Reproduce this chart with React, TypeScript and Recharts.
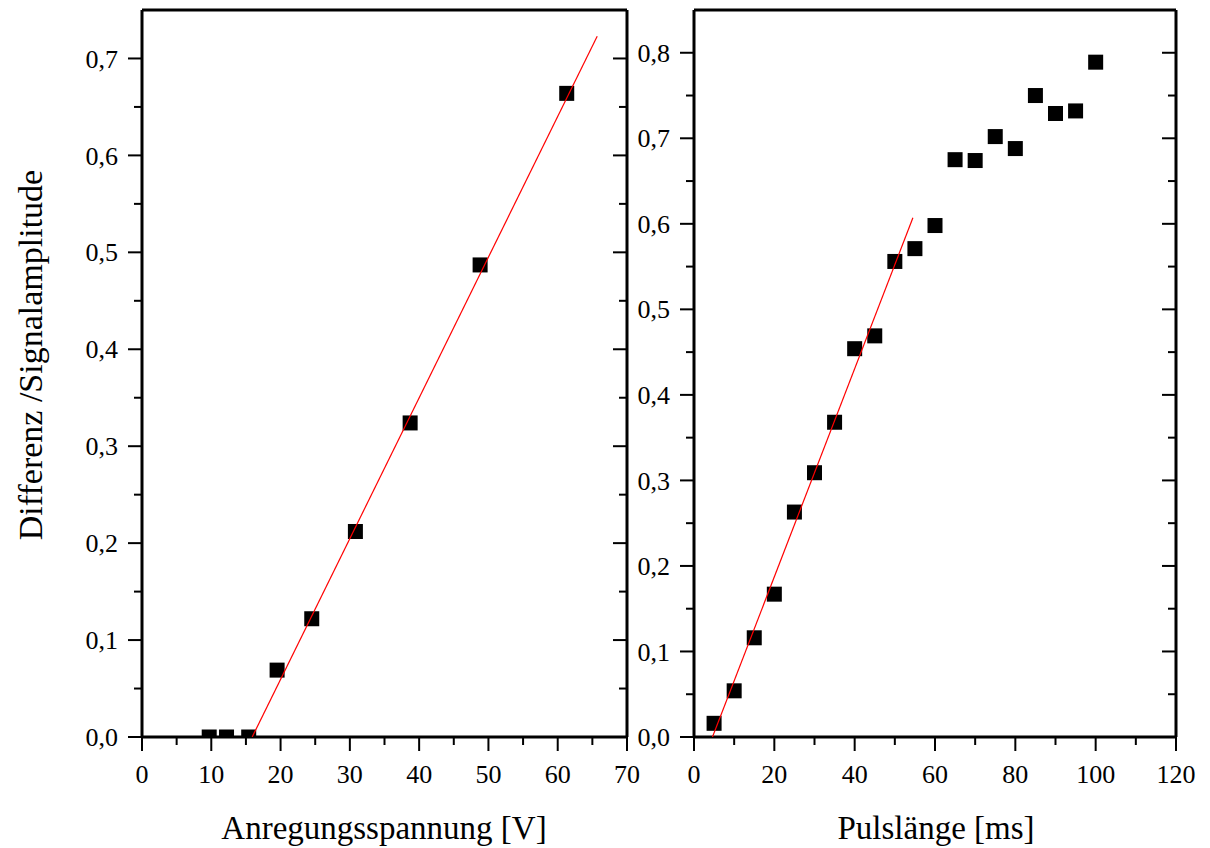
import React from 'react';
import { ScatterChart, Scatter, XAxis, YAxis } from 'recharts';

// left panel: amplitude vs excitation voltage
const voltage = [9.7, 12.2, 15.4, 19.5, 24.5, 30.8, 38.7, 48.8, 61.3];
const voltageAmp = [0, 0, 0, 0.069, 0.122, 0.212, 0.324, 0.487, 0.664];
const voltageFitX = [15.9, 65.7];
const voltageFitY = [0, 0.723];

// right panel: amplitude vs pulse length
const pulse = [5, 10, 15, 20, 25, 30, 35, 40, 45, 50, 55, 60, 65, 70, 75, 80, 85, 90, 95, 100];
const pulseAmp = [
  0.016, 0.054, 0.116, 0.167, 0.263, 0.309, 0.368, 0.454, 0.469, 0.556,
  0.571, 0.598, 0.675, 0.674, 0.702, 0.688, 0.75, 0.729, 0.732, 0.789,
];
const pulseFitX = [4.6, 54.5];
const pulseFitY = [0, 0.607];

const voltageTicks = [0, 5, 10, 15, 20, 25, 30, 35, 40, 45, 50, 55, 60, 65, 70];
const pulseTicks = [0, 10, 20, 30, 40, 50, 60, 70, 80, 90, 100, 110, 120];
const leftAmpTicks = [0, 0.05, 0.1, 0.15, 0.2, 0.25, 0.3, 0.35, 0.4, 0.45, 0.5, 0.55, 0.6, 0.65, 0.7];
const rightAmpTicks = [0, 0.05, 0.1, 0.15, 0.2, 0.25, 0.3, 0.35, 0.4, 0.45, 0.5, 0.55, 0.6, 0.65, 0.7, 0.75, 0.8];

const FONT = '"Liberation Serif", "Times New Roman", serif';
const AXIS = { stroke: '#000', strokeWidth: 3 };

const zip = (xs: number[], ys: number[]) => xs.map((x, i) => ({ x, y: ys[i] }));

const isMajor = (v: number, step: number) => Math.abs(v / step - Math.round(v / step)) < 1e-6;

const xTick = (step: number, labels: boolean) => (p: any) => {
  const v = p.payload.value;
  const major = isMajor(v, step);
  const len = major ? 14 : 8;
  return (
    <g>
      <line x1={p.x} x2={p.x} y1={p.y} y2={p.y + len} stroke="#000" strokeWidth={2} />
      {labels && major && (
        <text x={p.x} y={p.y + 37} dy="0.35em" textAnchor="middle" fontSize={26} fontFamily={FONT} fill="#000">
          {v}
        </text>
      )}
    </g>
  );
};

const yTick = (labels: boolean) => (p: any) => {
  const v = p.payload.value;
  const major = isMajor(v, 0.1);
  const len = major ? 14 : 8;
  return (
    <g>
      <line x1={p.x - len} x2={p.x} y1={p.y} y2={p.y} stroke="#000" strokeWidth={2} />
      {labels && major && (
        <text x={p.x - 24} y={p.y} dy="0.35em" textAnchor="end" fontSize={26} fontFamily={FONT} fill="#000">
          {v.toFixed(1).replace('.', ',')}
        </text>
      )}
    </g>
  );
};

const Square = (props: any) => (
  <rect x={props.cx - 7.5} y={props.cy - 7.5} width={15} height={15} fill="#000" />
);
const NoDot = () => <g />;

interface PanelProps {
  left: number;
  width: number;
  margin: { top: number; right: number; bottom: number; left: number };
  xDomain: [number, number];
  yDomain: [number, number];
  xTicks: number[];
  xStep: number;
  yTicks: number[];
  points: { x: number; y: number }[];
  fit: { x: number; y: number }[];
}

const Panel: React.FC<PanelProps> = ({ left, width, margin, xDomain, yDomain, xTicks, xStep, yTicks, points, fit }) => (
  <div style={{ position: 'absolute', left, top: 0 }}>
    <ScatterChart width={width} height={848} margin={margin}>
      <XAxis
        xAxisId="b" dataKey="x" type="number" domain={xDomain} ticks={xTicks} interval={0}
        allowDataOverflow height={1} tickSize={0} tickMargin={0} tickLine={false}
        axisLine={AXIS} tick={xTick(xStep, true)}
      />
      <XAxis
        xAxisId="t" orientation="top" mirror type="number" domain={xDomain} ticks={xTicks} interval={0}
        allowDataOverflow height={1} tickSize={0} tickMargin={0} tickLine={false}
        axisLine={AXIS} tick={xTick(xStep, false)}
      />
      <YAxis
        yAxisId="l" dataKey="y" type="number" domain={yDomain} ticks={yTicks} interval={0}
        allowDataOverflow width={1} tickSize={0} tickMargin={0} tickLine={false}
        axisLine={AXIS} tick={yTick(true)}
      />
      <YAxis
        yAxisId="r" orientation="right" mirror type="number" domain={yDomain} ticks={yTicks} interval={0}
        allowDataOverflow width={1} tickSize={0} tickMargin={0} tickLine={false}
        axisLine={AXIS} tick={yTick(false)}
      />
      <Scatter xAxisId="b" yAxisId="l" data={points} shape={Square} isAnimationActive={false} />
      <Scatter
        xAxisId="b" yAxisId="l" data={fit} shape={NoDot}
        line={{ stroke: '#ff0000', strokeWidth: 1.2 }} isAnimationActive={false}
      />
    </ScatterChart>
  </div>
);

export default function App() {
  return (
    <div style={{ position: 'absolute', left: 0, top: 0, width: 1210, height: 848, background: '#fff' }}>
      <Panel
        left={0} width={660}
        margin={{ top: 10, right: 33, bottom: 110, left: 141 }}
        xDomain={[0, 70]} yDomain={[0, 0.75]}
        xTicks={voltageTicks} xStep={10} yTicks={leftAmpTicks}
        points={zip(voltage, voltageAmp)} fit={zip(voltageFitX, voltageFitY)}
      />
      <Panel
        left={600} width={610}
        margin={{ top: 10, right: 34, bottom: 110, left: 93 }}
        xDomain={[0, 120]} yDomain={[0, 0.85]}
        xTicks={pulseTicks} xStep={20} yTicks={rightAmpTicks}
        points={zip(pulse, pulseAmp)} fit={zip(pulseFitX, pulseFitY)}
      />
      <svg width={1210} height={848} style={{ position: 'absolute', left: 0, top: 0, pointerEvents: 'none' }}>
        <g fontFamily={FONT} fontSize={33} fill="#000" textAnchor="middle">
          <text x={384} y={839}>Anregungsspannung [V]</text>
          <text x={936} y={839}>Pulslänge [ms]</text>
          <text transform="translate(42,355) rotate(-90)" fontSize={34}>Differenz /Signalamplitude</text>
        </g>
      </svg>
    </div>
  );
}
